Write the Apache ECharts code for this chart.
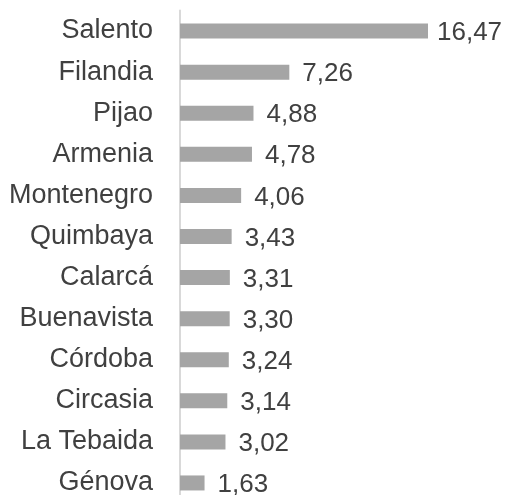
<!DOCTYPE html>
<html>
<head>
<meta charset="utf-8">
<script src="https://cdn.jsdelivr.net/npm/echarts@6/dist/echarts.min.js"></script>
<style>html,body{margin:0;padding:0;background:#fff;}#c{width:505px;height:495px;}</style>
</head>
<body>
<div id="c"></div>
<script>
const categories = ["Salento","Filandia","Pijao","Armenia","Montenegro","Quimbaya","Calarcá","Buenavista","Córdoba","Circasia","La Tebaida","Génova"];
const values = [16.47,7.26,4.88,4.78,4.06,3.43,3.31,3.30,3.24,3.14,3.02,1.63];

const FONT = '"Liberation Sans Narrow","Arial Narrow","Liberation Sans",sans-serif';
const chart = echarts.init(document.getElementById('c'), null, {renderer:'canvas'});
const xMax = 20;
const pxPerUnit = 248/16.47;
const seriesData = values.map((v, i) => i === 0 ? {value: v, label: {distance: 9}} : v);
chart.setOption({
  animation:false,
  grid:{left:180, top:10.5, width:pxPerUnit*xMax, height:493, containLabel:false, outerBoundsMode:'none'},
  xAxis:{type:'value', min:0, max:xMax, show:false},
  yAxis:{type:'category', inverse:true, data:categories,
    axisLine:{show:true, lineStyle:{color:'#d9d9d9', width:2}},
    axisTick:{show:false},
    axisLabel:{color:'#404040', fontFamily:FONT, fontSize:27, margin:27}
  },
  series:[{type:'bar', data:seriesData, barWidth:15,
    itemStyle:{color:'#a5a5a5'},
    label:{show:true, position:'right', distance:13, offset:[0,2],
      color:'#404040', fontFamily:FONT, fontSize:26,
      formatter:p=>p.value.toFixed(2).replace('.',',')}
  }]
});
</script>
</body>
</html>
